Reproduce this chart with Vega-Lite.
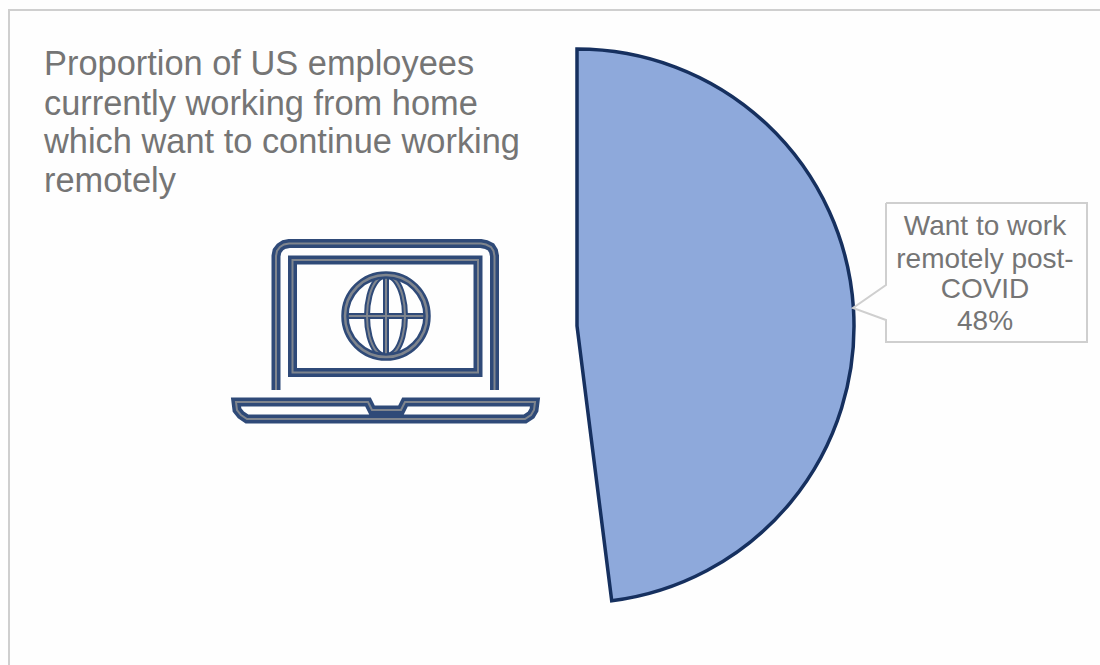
{
"$schema":"https://vega.github.io/schema/vega-lite/v6.json",
"width":1046,"height":650,
"autosize":{"type":"none"},
"padding":{"left":54,"top":1,"right":0,"bottom":14},
"background":"#fefefe",
"view":{"stroke":null},
"datasets":{
"share":[{"group":"Want to work remotely post-COVID","value":48,"i":1},{"group":"Other","value":52,"i":2}],
"laptop":[
{"part":"lid","i":1,"x":276,"y":390},{"part":"lid","i":2,"x":276,"y":256},{"part":"lid","i":3,"x":277,"y":251},{"part":"lid","i":4,"x":280,"y":247},{"part":"lid","i":5,"x":284,"y":244.5},{"part":"lid","i":6,"x":289,"y":243.5},{"part":"lid","i":7,"x":481,"y":243.5},{"part":"lid","i":8,"x":486,"y":244.5},{"part":"lid","i":9,"x":491,"y":247},{"part":"lid","i":10,"x":493.5,"y":251},{"part":"lid","i":11,"x":494.5,"y":256},{"part":"lid","i":12,"x":494.5,"y":390},
{"part":"screen","i":1,"x":292.5,"y":260},{"part":"screen","i":2,"x":478,"y":260},{"part":"screen","i":3,"x":478,"y":372.5},{"part":"screen","i":4,"x":292.5,"y":372.5},{"part":"screen","i":5,"x":292.5,"y":260},{"part":"screen","i":6,"x":478,"y":260},
{"part":"base","i":1,"x":236,"y":402},{"part":"base","i":2,"x":368,"y":402},{"part":"base","i":3,"x":372,"y":410},{"part":"base","i":4,"x":401,"y":410},{"part":"base","i":5,"x":405,"y":402},{"part":"base","i":6,"x":535,"y":402},{"part":"base","i":7,"x":534,"y":410},{"part":"base","i":8,"x":531,"y":415},{"part":"base","i":9,"x":525,"y":419},{"part":"base","i":10,"x":247,"y":419},{"part":"base","i":11,"x":241,"y":415},{"part":"base","i":12,"x":237,"y":410},{"part":"base","i":13,"x":236,"y":402},{"part":"base","i":14,"x":368,"y":402}
],
"globe":[
{"part":"v","i":1,"x":386,"y":275},{"part":"v","i":2,"x":386,"y":357},
{"part":"h","i":1,"x":345,"y":316},{"part":"h","i":2,"x":427,"y":316},
{"part":"e1","i":1,"x":386,"y":275},{"part":"e1","i":2,"x":395.5,"y":280.5},{"part":"e1","i":3,"x":402.5,"y":295.5},{"part":"e1","i":4,"x":405,"y":316},{"part":"e1","i":5,"x":402.5,"y":336.5},{"part":"e1","i":6,"x":395.5,"y":351.5},{"part":"e1","i":7,"x":386,"y":357},
{"part":"e2","i":1,"x":386,"y":275},{"part":"e2","i":2,"x":376.5,"y":280.5},{"part":"e2","i":3,"x":369.5,"y":295.5},{"part":"e2","i":4,"x":367,"y":316},{"part":"e2","i":5,"x":369.5,"y":336.5},{"part":"e2","i":6,"x":376.5,"y":351.5},{"part":"e2","i":7,"x":386,"y":357}
],
"outline":[
{"part":"frame","i":1,"x":9,"y":665},{"part":"frame","i":2,"x":9,"y":10},{"part":"frame","i":3,"x":1100,"y":10},
{"part":"callout","i":1,"x":886,"y":203},{"part":"callout","i":2,"x":1087,"y":203},{"part":"callout","i":3,"x":1087,"y":342},{"part":"callout","i":4,"x":886,"y":342},{"part":"callout","i":5,"x":886,"y":320},{"part":"callout","i":6,"x":853,"y":308},{"part":"callout","i":7,"x":886,"y":285},{"part":"callout","i":8,"x":886,"y":203}
],
"title":[
{"t":"Proportion of US employees","x":44,"y":75},
{"t":"currently working from home","x":44,"y":115},
{"t":"which want to continue working","x":44,"y":153},
{"t":"remotely","x":44,"y":192}
],
"label":[
{"t":"Want to work","x":985,"y":235},
{"t":"remotely post-","x":985,"y":268},
{"t":"COVID","x":985,"y":298},
{"t":"48%","x":985,"y":330}
],
"centre":[{"x":386,"y":316}]
},
"layer":[
{"data":{"name":"share"},"mark":{"type":"arc","outerRadius":277,"strokeWidth":3.5,"strokeJoin":"miter"},
 "encoding":{
 "theta":{"field":"value","type":"quantitative","stack":true,"scale":{"domain":[0,100]}},
 "order":{"field":"i","type":"quantitative"},
 "fill":{"field":"group","type":"nominal","legend":null,"scale":{"domain":["Want to work remotely post-COVID","Other"],"range":["#8ea9db","transparent"]}},
 "stroke":{"field":"group","type":"nominal","legend":null,"scale":{"domain":["Want to work remotely post-COVID","Other"],"range":["#16305f","transparent"]}}}},
{"data":{"name":"outline"},"mark":{"type":"line","stroke":"#cfcfcf","strokeWidth":2,"strokeJoin":"miter"},
 "encoding":{"x":{"field":"x","type":"quantitative","axis":null,"scale":{"domain":[54,1100],"nice":false,"zero":false}},"y":{"field":"y","type":"quantitative","axis":null,"scale":{"domain":[1,651],"reverse":true,"nice":false,"zero":false}},"detail":{"field":"part"},"order":{"field":"i","type":"quantitative"}}},
{"data":{"name":"laptop"},"mark":{"type":"line","stroke":"#2f4a78","strokeWidth":9,"strokeJoin":"miter","strokeCap":"butt"},
 "encoding":{"x":{"field":"x","type":"quantitative"},"y":{"field":"y","type":"quantitative"},"detail":{"field":"part"},"order":{"field":"i","type":"quantitative"}}},
{"data":{"name":"laptop"},"mark":{"type":"line","stroke":"#7f858e","strokeWidth":2,"strokeJoin":"miter","strokeCap":"butt"},
 "encoding":{"x":{"field":"x","type":"quantitative"},"y":{"field":"y","type":"quantitative"},"detail":{"field":"part"},"order":{"field":"i","type":"quantitative"}}},
{"data":{"name":"globe"},"mark":{"type":"line","stroke":"#2f4a78","strokeWidth":6,"interpolate":"cardinal"},
 "encoding":{"x":{"field":"x","type":"quantitative"},"y":{"field":"y","type":"quantitative"},"detail":{"field":"part"},"order":{"field":"i","type":"quantitative"}}},
{"data":{"name":"globe"},"mark":{"type":"line","stroke":"#7f858e","strokeWidth":2,"interpolate":"cardinal"},
 "encoding":{"x":{"field":"x","type":"quantitative"},"y":{"field":"y","type":"quantitative"},"detail":{"field":"part"},"order":{"field":"i","type":"quantitative"}}},
{"data":{"name":"centre"},"mark":{"type":"point","shape":"circle","size":6724,"filled":false,"stroke":"#2f4a78","strokeWidth":7.5,"opacity":1},
 "encoding":{"x":{"field":"x","type":"quantitative"},"y":{"field":"y","type":"quantitative"}}},
{"data":{"name":"centre"},"mark":{"type":"point","shape":"circle","size":6724,"filled":false,"stroke":"#7f858e","strokeWidth":2.5,"opacity":1},
 "encoding":{"x":{"field":"x","type":"quantitative"},"y":{"field":"y","type":"quantitative"}}},
{"data":{"name":"title"},"mark":{"type":"text","align":"left","baseline":"alphabetic","font":"Liberation Sans","fontSize":34.4,"fill":"#757575"},
 "encoding":{"x":{"field":"x","type":"quantitative"},"y":{"field":"y","type":"quantitative"},"text":{"field":"t"}}},
{"data":{"name":"label"},"mark":{"type":"text","align":"center","baseline":"alphabetic","font":"Liberation Sans","fontSize":28,"fill":"#757575"},
 "encoding":{"x":{"field":"x","type":"quantitative"},"y":{"field":"y","type":"quantitative"},"text":{"field":"t"}}}
]
}
